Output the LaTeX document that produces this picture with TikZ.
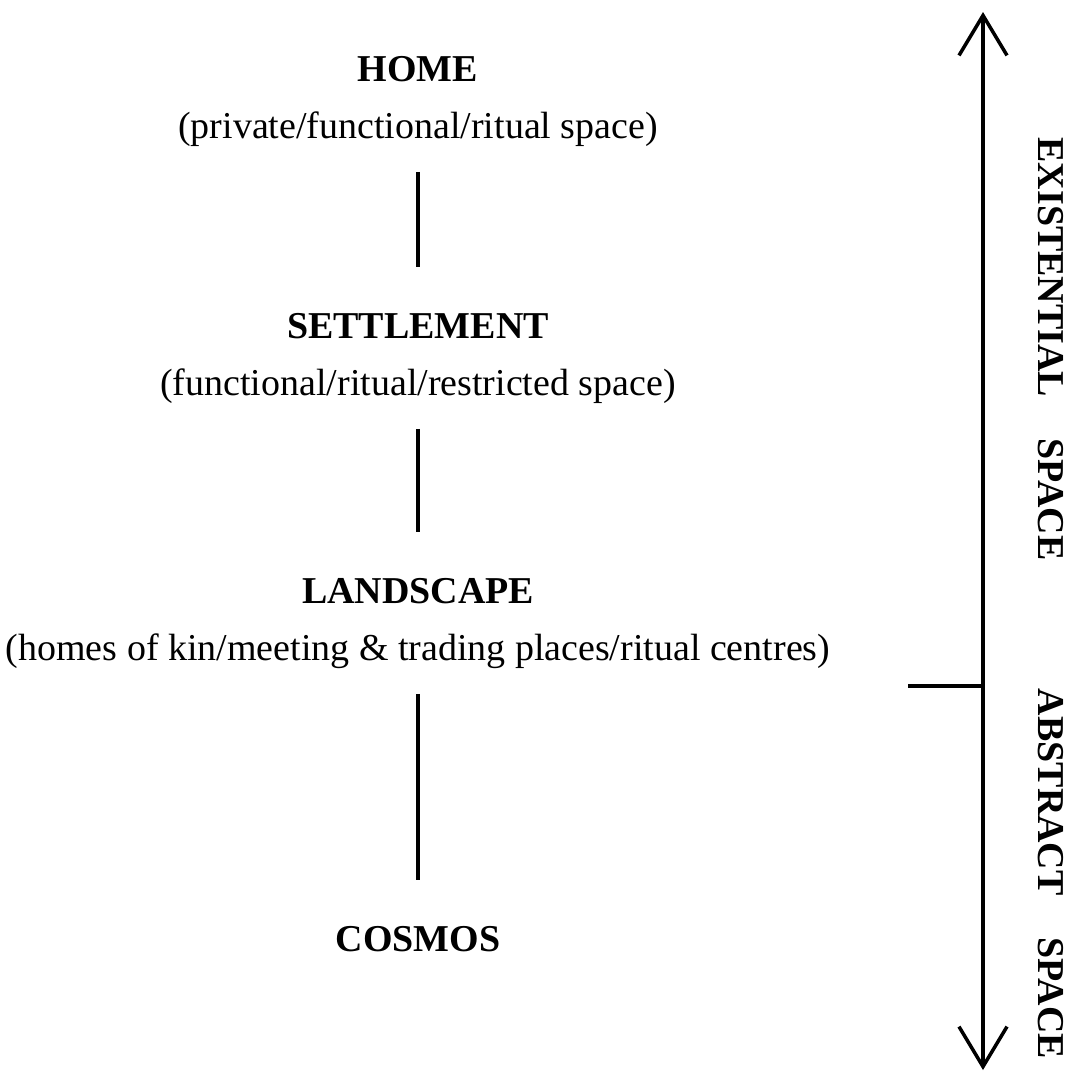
\documentclass[tikz,border=0pt]{standalone}
\usepackage{fontspec}
\setmainfont{Liberation Serif}
\usetikzlibrary{arrows.meta}

\begin{document}
\begin{tikzpicture}[
  level/.style={anchor=base, inner sep=0pt, font=\fontsize{10.8}{13}\selectfont\bfseries},
  usage/.style={anchor=base, inner sep=0pt, font=\fontsize{10.8}{13}\selectfont},
  side/.style={inner sep=0pt, rotate=-90, font=\fontsize{10.8}{13}\selectfont\bfseries},
  link/.style={line width=0.9pt, shorten <=2.5mm, shorten >=4.5mm},
  axis/.style={line width=1pt,
               {Straight Barb[length=4mm, width=4.8mm]}-{Straight Barb[length=4mm, width=4.8mm]}}
]
\useasboundingbox (0,0) rectangle (10.79,-10.73);
% nested levels of space
\node[level] (home)      at (4.18,-0.81) {HOME};
\node[usage] (homeuse)   at (4.18,-1.38) {(private/functional/ritual space)};
\node[level] (settle)    at (4.18,-3.38) {SETTLEMENT};
\node[usage] (settleuse) at (4.18,-3.95) {(functional/ritual/restricted space)};
\node[level] (land)      at (4.18,-6.03) {LANDSCAPE};
\node[usage] (landuse)   at (4.18,-6.60) {(homes of kin/meeting \& trading places/ritual centres)};
\node[level] (cosmos)    at (4.18,-9.51) {COSMOS};
% connectors between levels
\draw[link] (homeuse.south)   -- (settle.north);
\draw[link] (settleuse.south) -- (land.north);
\draw[link] (landuse.south)   -- (cosmos.north);
% scale of space (right)
\coordinate (axtop)    at (9.83,-0.12);
\coordinate (axbot)    at (9.83,-10.70);
\coordinate (split)    at (9.83,-6.86);
\coordinate (splitend) at (9.08,-6.86);
\draw[axis] (axbot) -- (axtop);
\draw[line width=0.9pt] (splitend) -- (split);
\node[side] (exist) at (10.51,-3.49) {EXISTENTIAL\hspace{1.1em}SPACE};
\node[side] (abstr) at (10.51,-8.74) {ABSTRACT\hspace{1.1em}SPACE};
\end{tikzpicture}
\end{document}
